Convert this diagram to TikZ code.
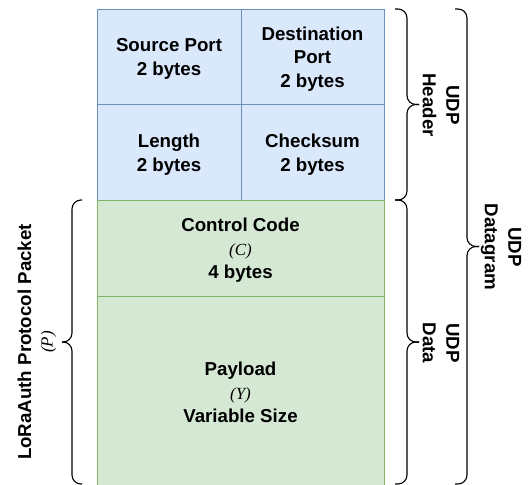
\documentclass[tikz,border=0pt]{standalone}
\usepackage{fontspec}
\setmainfont{Liberation Sans}
\newfontfamily\varfont{Liberation Serif}
\definecolor{hdrfill}{HTML}{DAE8FC}
\definecolor{hdrline}{HTML}{6C8EBF}
\definecolor{datfill}{HTML}{D5E8D4}
\definecolor{datline}{HTML}{82B366}
\newcommand{\var}[1]{{\varfont\mdseries\itshape\fontsize{17}{23}\selectfont #1}}
\begin{document}
\begin{tikzpicture}[x=1pt,y=-1pt,
  lbl/.style={font=\bfseries\fontsize{18.7}{23.5}\selectfont, align=center, inner sep=0pt},
  cell/.style={line width=1pt, inner sep=0pt, minimum width=#1},
  hdrcell/.style={cell=#1, draw=hdrline, fill=hdrfill},
  datcell/.style={cell=#1, draw=datline, fill=datfill},
  brc/.style={draw=black, line width=1.1pt, rounded corners=9pt}]
\useasboundingbox (0,0) rectangle (528,485);
\clip (0,0) rectangle (528,485);

% UDP header fields
\node[hdrcell=144pt, minimum height=95pt] (sp)  at (169,56.5)   {};
\node[hdrcell=143pt, minimum height=95pt] (dp)  at (312.5,56.5) {};
\node[hdrcell=144pt, minimum height=96pt] (len) at (169,152)    {};
\node[hdrcell=143pt, minimum height=96pt] (chk) at (312.5,152)  {};
\node[lbl] (sptxt)  at ([yshift=-2.5pt]sp.center)  {Source Port\\2 bytes};
\node[lbl] (dptxt)  at ([yshift=-2.5pt]dp.center)  {Destination\\Port\\2 bytes};
\node[lbl] (lentxt) at ([yshift=-2.5pt]len.center) {Length\\2 bytes};
\node[lbl] (chktxt) at ([yshift=-2.5pt]chk.center) {Checksum\\2 bytes};

% UDP data: the LoRaAuth packet
\node[datcell=287pt, minimum height=96pt]  (ctrl) at (240.5,248) {};
\node[datcell=287pt, minimum height=192pt] (pay)  at (240.5,392) {};
\node[lbl] (ctrltxt) at ([yshift=-2.5pt]ctrl.center) {Control Code\\\var{(C)}\\4 bytes};
\node[lbl] (paytxt)  at ([yshift=-0.5pt]pay.center)  {Payload\\\var{(Y)}\\Variable Size};

% Braces on the right
\coordinate (hT) at (407,9);   \coordinate (hM) at (407,104.5); \coordinate (hB) at (407,200);
\draw[brc] (395,9) -- (hT) -- (hM) -- (419,104.5);
\draw[brc] (419,104.5) -- (hM) -- (hB) -- (395,200);

\coordinate (dT) at (407,200); \coordinate (dM) at (407,342);   \coordinate (dB) at (407,484);
\draw[brc] (395,200) -- (dT) -- (dM) -- (419,342);
\draw[brc] (419,342) -- (dM) -- (dB) -- (395,484);

\coordinate (gT) at (467,9);   \coordinate (gM) at (467,246.5); \coordinate (gB) at (467,484);
\draw[brc] (455,9) -- (gT) -- (gM) -- (479,246.5);
\draw[brc] (479,246.5) -- (gM) -- (gB) -- (455,484);

% Brace on the left
\coordinate (pT) at (72,200);  \coordinate (pM) at (72,342);    \coordinate (pB) at (72,484);
\draw[brc] (82,200) -- (pT) -- (pM) -- (62,342);
\draw[brc] (62,342) -- (pM) -- (pB) -- (82,484);

% Brace labels
\node[lbl, rotate=-90] (hdrlbl) at (441,105) {UDP\\Header};
\node[lbl, rotate=-90] (datlbl) at (441,343) {UDP\\Data};
\node[lbl, rotate=-90] (dgmlbl) at (501,247) {UDP\\Datagram};
\node[lbl, rotate=90, font=\bfseries\fontsize{18.7}{21.5}\selectfont] (pktlbl) at (37,342) {LoRaAuth Protocol Packet\\\var{(P)}};
\end{tikzpicture}
\end{document}
